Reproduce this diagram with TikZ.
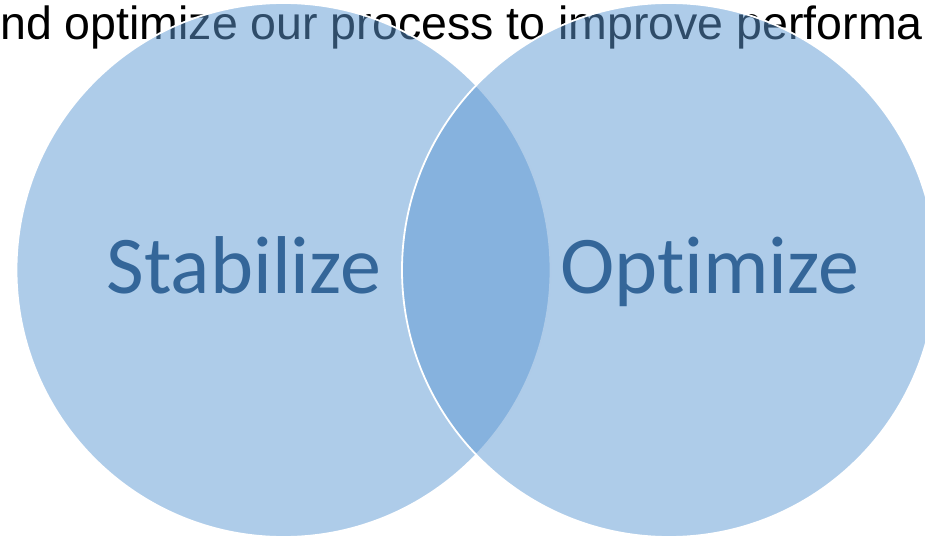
\documentclass[tikz,border=0pt]{standalone}
\usepackage{fontspec}
\setmainfont{Liberation Sans}
\newfontfamily\calib[Ligatures=NoCommon]{Carlito}
\definecolor{vennfill}{RGB}{94,153,211}
\definecolor{venntext}{RGB}{52,102,153}
\tikzset{
  venncircle/.style={circle, fill=vennfill, fill opacity=0.5, draw=white, draw opacity=1, line width=1.8pt, minimum size=534pt, inner sep=0pt},
  vennlabel/.style={text=venntext, font=\calib\fontsize{82}{98}\selectfont, inner sep=0pt, anchor=base},
  toptext/.style={text=black, font=\fontsize{46.5}{56}\selectfont, inner sep=0pt, anchor=base west}
}
\begin{document}
\begin{tikzpicture}[x=1pt,y=-1pt]
\useasboundingbox (0,0) rectangle (925,540);
\clip (0,0) rectangle (925,540);
\node[toptext] (title) at (0,40) {nd optimize our process to improve performa};
\node[venncircle] (left) at (283.5,270) {};
\node[venncircle] (right) at (669,270) {};
\node[vennlabel] (stab) at (244,293) {Stabilize};
\node[vennlabel] (opt) at (709.5,293) {Optimize};
\end{tikzpicture}
\end{document}
